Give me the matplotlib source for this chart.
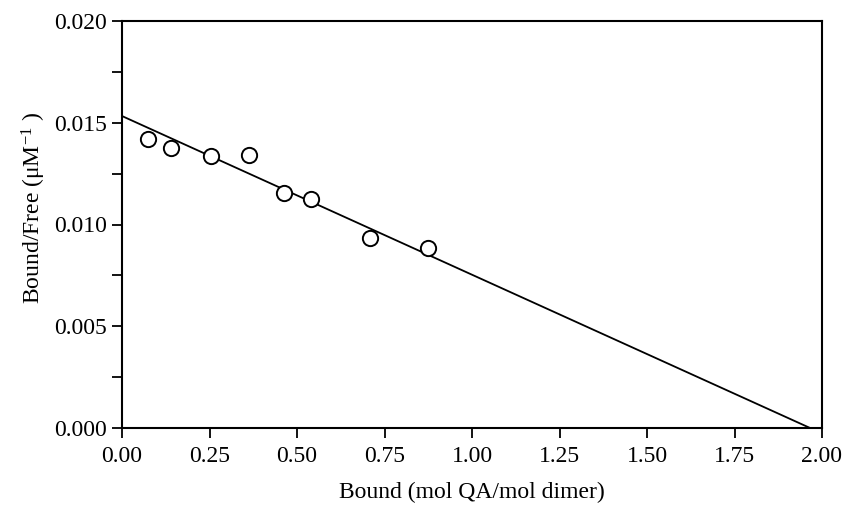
import matplotlib.pyplot as plt
import numpy as np
from matplotlib.ticker import MultipleLocator

# Scatchard plot data
bound = [0.074, 0.140, 0.254, 0.363, 0.463, 0.540, 0.709, 0.874]
bound_free = [0.01420, 0.01376, 0.01337, 0.01342, 0.01155, 0.01125, 0.00934, 0.00885]

# Fitted line end points
fit_x = [0.0, 1.966]
fit_y = [0.01533, 0.0]

plt.rcParams['font.family'] = ['Liberation Serif', 'DejaVu Serif']

fig = plt.figure(figsize=(8.48, 5.08), dpi=100)
ax = fig.add_axes([122 / 848, 1 - 428 / 508, 700 / 848, 407 / 508])

ax.plot(fit_x, fit_y, color='black', lw=1.3, zorder=2)
ax.plot(bound, bound_free, 'o', ms=11, mfc='white', mec='black', mew=1.4, zorder=3, clip_on=False)

ax.set_xlim(0, 2.0)
ax.set_ylim(0, 0.020)
ax.xaxis.set_major_locator(MultipleLocator(0.25))
ax.yaxis.set_major_locator(MultipleLocator(0.005))
ax.yaxis.set_minor_locator(MultipleLocator(0.0025))
ax.xaxis.set_major_formatter(plt.FormatStrFormatter('%.2f'))
ax.yaxis.set_major_formatter(plt.FormatStrFormatter('%.3f'))

ax.tick_params(axis='both', which='major', direction='out', length=7, width=1.3, labelsize=17)
ax.tick_params(axis='x', which='major', pad=6)
ax.tick_params(axis='y', which='major', pad=4)
ax.tick_params(axis='y', which='minor', direction='out', length=7, width=1.3)
for sp in ax.spines.values():
    sp.set_linewidth(1.5)

ax.set_xlabel('Bound (mol QA/mol dimer)', fontsize=17)
ax.set_ylabel(r'Bound/Free ($\mathregular{\mu M^{-1}}$ )', fontsize=17)
ax.xaxis.set_label_coords(0.5, -0.133)
ax.yaxis.set_label_coords(-0.106, 0.54)

fig.savefig('out.png', dpi=100)
